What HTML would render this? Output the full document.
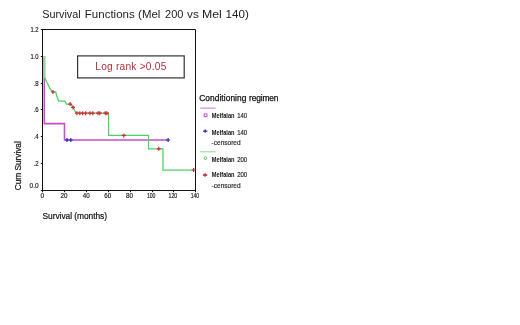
<!DOCTYPE html>
<html><head><meta charset="utf-8">
<style>
html,body{margin:0;padding:0;background:#fff;}
svg{display:block;}
text{font-family:"Liberation Sans",sans-serif;fill:#111;}
.t{font-size:7px;stroke:#111;stroke-width:0.15px;}
.lg{font-size:7px;font-weight:bold;fill:#111;}
.cs{font-size:7px;fill:#222;stroke:#222;stroke-width:0.15px;}
</style></head><body>
<svg width="520" height="325" viewBox="0 0 520 325">
<rect width="520" height="325" fill="#fff"/>
<g font-size="11.7" style="fill:#222">
<text x="42.2" y="18.2" textLength="38.5" lengthAdjust="spacingAndGlyphs" style="fill:#222">Survival</text>
<text x="84.8" y="18.2" textLength="49.9" lengthAdjust="spacingAndGlyphs" style="fill:#222">Functions</text>
<text x="138.1" y="18.2" textLength="22.3" lengthAdjust="spacingAndGlyphs" style="fill:#222">(Mel</text>
<text x="165.0" y="18.2" textLength="18.4" lengthAdjust="spacingAndGlyphs" style="fill:#222">200</text>
<text x="187.0" y="18.2" textLength="11.8" lengthAdjust="spacingAndGlyphs" style="fill:#222">vs</text>
<text x="202.0" y="18.2" textLength="19.8" lengthAdjust="spacingAndGlyphs" style="fill:#222">Mel</text>
<text x="225.6" y="18.2" textLength="23.3" lengthAdjust="spacingAndGlyphs" style="fill:#222">140)</text>
</g>
<!-- frame -->
<path d="M42.5 29.5H195.5V190.5H42.5Z" fill="none" stroke="#111" stroke-width="1"/>
<!-- y ticks -->
<g stroke="#111" stroke-width="1">
<path d="M40.8 29.5H43M40.8 56.5H43M40.8 83.5H43M40.8 109.5H43M40.8 136.5H43M40.8 163.5H43M40.8 190.5H43"/>
<path d="M42.5 190V192.2M64.5 190V192.2M86.5 190V192.2M108.5 190V192.2M130.5 190V192.2M152.5 190V192.2M173.5 190V192.2M195.5 190V192.2"/>
</g>
<g class="t">
<text x="30.5" y="31.9" textLength="8.1" lengthAdjust="spacingAndGlyphs">1.2</text>
<text x="30.5" y="58.8" textLength="8.1" lengthAdjust="spacingAndGlyphs">1.0</text>
<text x="33.6" y="85.6" textLength="5" lengthAdjust="spacingAndGlyphs">.8</text>
<text x="33.6" y="112.4" textLength="5" lengthAdjust="spacingAndGlyphs">.6</text>
<text x="33.6" y="139.2" textLength="5" lengthAdjust="spacingAndGlyphs">.4</text>
<text x="33.6" y="166.1" textLength="5" lengthAdjust="spacingAndGlyphs">.2</text>
<text x="29.6" y="188.4" textLength="9" lengthAdjust="spacingAndGlyphs">0.0</text>
</g>
<g class="t" lengthAdjust="spacingAndGlyphs">
<text x="40.4" y="198.2" textLength="3.6" lengthAdjust="spacingAndGlyphs">0</text>
<text x="60.5" y="198.2" textLength="7" lengthAdjust="spacingAndGlyphs">20</text>
<text x="82.7" y="198.2" textLength="7" lengthAdjust="spacingAndGlyphs">40</text>
<text x="104.3" y="198.2" textLength="7" lengthAdjust="spacingAndGlyphs">60</text>
<text x="125.9" y="198.2" textLength="7" lengthAdjust="spacingAndGlyphs">80</text>
<text x="146.9" y="198.2" textLength="8.6" lengthAdjust="spacingAndGlyphs">100</text>
<text x="168.5" y="198.2" textLength="8.8" lengthAdjust="spacingAndGlyphs">120</text>
<text x="190.7" y="198.2" textLength="8.4" lengthAdjust="spacingAndGlyphs">140</text>
</g>
<text x="42.5" y="219.3" font-size="8.4" textLength="64.5" style="stroke:#111;stroke-width:0.2px">Survival (months)</text>
<text transform="translate(21.3,190.2) rotate(-90)" font-size="8.4" textLength="49" style="stroke:#111;stroke-width:0.2px">Cum Survival</text>
<!-- log rank box -->
<rect x="77.6" y="55.9" width="106.6" height="22" fill="#fff" stroke="#333" stroke-width="1.2"/>
<text x="95.3" y="69.5" font-size="10.2" textLength="71" style="fill:#b0303a">Log rank &gt;0.05</text>
<!-- purple curve -->
<path d="M44.3 56V123.6H64.5V140H167.5" fill="none" stroke="#c84ccc" stroke-width="1.6"/>
<!-- green curve -->
<path d="M44.5 56V78.5" fill="none" stroke="#8cd89a" stroke-width="1.9"/>
<path d="M44.7 77.5L47.1 82.8L49.5 87.6L52.4 91.8H55.8L56.8 96.3L58.7 101H64.9L66.4 104H70.7L73.1 107L76 113.2H108.6V135.4H148.5V148.8H163V170H194" fill="none" stroke="#48d460" stroke-width="1.25"/>
<!-- censor marks -->
<path d="M50.9 92H54.9M52.9 90.0V94.0M68.2 104.1H72.2M70.2 102.1V106.1M71.0 107.4H75.0M73 105.4V109.4M74.9 113.2H78.9M76.9 111.2V115.2M77.8 113.2H81.8M79.8 111.2V115.2M80.7 113.2H84.7M82.7 111.2V115.2M83.6 113.2H87.6M85.6 111.2V115.2M87.9 113.2H91.9M89.9 111.2V115.2M90.8 113.2H94.8M92.8 111.2V115.2M96.0 113.2H100.0M98 111.2V115.2M97.8 113.2H101.8M99.8 111.2V115.2M103.3 113.2H107.3M105.3 111.2V115.2M104.9 113.2H108.9M106.9 111.2V115.2M121.8 135.4H125.8M123.8 133.4V137.4M156.8 148.8H160.8M158.8 146.8V150.8M191.6 170H195.6M193.6 168.0V172.0" stroke="#d02830" stroke-width="1.2" fill="none"/>
<path d="M65.0 140H69.0M67 138.0V142.0M68.8 140H72.8M70.8 138.0V142.0M166.1 140H170.1M168.1 138.0V142.0" stroke="#2828b0" stroke-width="1.2" fill="none"/>
<!-- legend -->
<text x="199.2" y="101" font-size="8.4" textLength="47.2" style="fill:#111;stroke:#111;stroke-width:0.25px">Conditioning</text>
<text x="249" y="101" font-size="8.4" textLength="29.4" style="fill:#111;stroke:#111;stroke-width:0.25px">regimen</text>
<path d="M200.2 108.1H215.6" stroke="#c060cc" stroke-width="0.9"/>
<rect x="204.2" y="113.9" width="2.8" height="2.8" fill="none" stroke="#c040c8" stroke-width="0.9"/>
<text class="lg" x="211.8" y="117.8" textLength="22.8" lengthAdjust="spacingAndGlyphs">Melfalan</text><text class="cs" x="237.2" y="117.8" textLength="10" lengthAdjust="spacingAndGlyphs" style="fill:#111">140</text>
<path d="M203.0 131.1H207.4M205.2 129.4V132.8" stroke="#2828b0" stroke-width="1.3"/>
<text class="lg" x="211.8" y="134.7" textLength="22.8" lengthAdjust="spacingAndGlyphs">Melfalan</text><text class="cs" x="237.2" y="134.7" textLength="10" lengthAdjust="spacingAndGlyphs" style="fill:#111">140</text>
<text class="cs" x="211.6" y="145" textLength="29" lengthAdjust="spacingAndGlyphs">-censored</text>
<path d="M200.2 151.8H215.6" stroke="#70dc80" stroke-width="0.9"/>
<circle cx="205.4" cy="158.2" r="1.35" fill="none" stroke="#40c858" stroke-width="0.9"/>
<text class="lg" x="211.8" y="161.8" textLength="22.8" lengthAdjust="spacingAndGlyphs">Melfalan</text><text class="cs" x="237.2" y="161.8" textLength="10" lengthAdjust="spacingAndGlyphs" style="fill:#111">200</text>
<path d="M202.9 175H207.3M205.1 173.3V176.7" stroke="#c02838" stroke-width="1.3"/>
<text class="lg" x="211.8" y="177.3" textLength="22.8" lengthAdjust="spacingAndGlyphs">Melfalan</text><text class="cs" x="237.2" y="177.3" textLength="10" lengthAdjust="spacingAndGlyphs" style="fill:#111">200</text>
<text class="cs" x="211.6" y="188" textLength="29" lengthAdjust="spacingAndGlyphs">-censored</text>
</svg>
</body></html>
